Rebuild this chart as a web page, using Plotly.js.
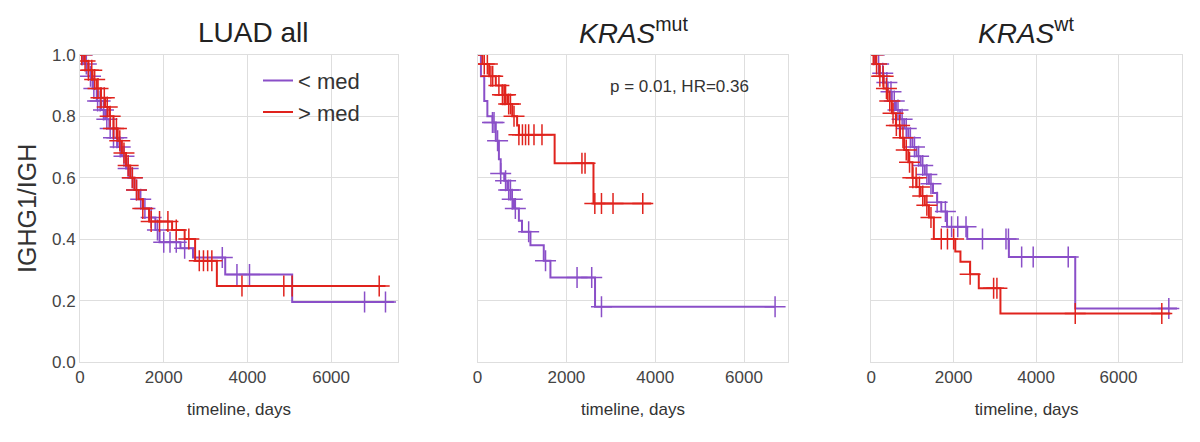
<!DOCTYPE html>
<html><head><script src="https://cdn.plot.ly/plotly-3.0.1.min.js"></script>
<style>body{margin:0}</style></head><body><div id="c" style="width:1200px;height:442px"></div>
<script>
// Panel 1: LUAD all
const p1LowT = [0,100,200,300,400,500,600,700,800,900,1000,1100,1200,1300,1400,1500,1650,1800,1900,2400,2700,3470,5070,7500];
const p1LowS = [1,0.97,0.93,0.89,0.85,0.82,0.79,0.76,0.73,0.70,0.67,0.63,0.60,0.56,0.53,0.50,0.47,0.43,0.39,0.37,0.34,0.285,0.195,0.195];
const p1LowC = [60,150,250,330,420,480,560,640,720,800,880,960,1050,1150,1250,1350,1450,1550,1700,1850,2000,2150,2300,2500,3400,3750,4050,6800,7300];
const p1HighT = [0,100,200,300,400,500,600,700,800,900,1000,1100,1200,1300,1400,1500,1650,2200,2500,2750,3270,7300];
const p1HighS = [1,0.98,0.95,0.92,0.89,0.86,0.83,0.80,0.76,0.72,0.68,0.64,0.60,0.56,0.53,0.50,0.457,0.43,0.40,0.33,0.247,0.247];
const p1HighC = [40,120,200,280,350,430,500,580,650,720,800,870,950,1050,1150,1250,1350,1500,1700,1900,2100,2300,2600,2850,2950,3050,3150,3870,4870,5070,7150];
// Panel 2: KRAS mut
const p2LowT = [0,75,150,220,335,410,480,520,600,670,745,820,930,1000,1190,1490,1640,2645,6700];
const p2LowS = [1,0.93,0.85,0.80,0.78,0.72,0.66,0.614,0.59,0.56,0.53,0.50,0.46,0.424,0.38,0.33,0.275,0.18,0.18];
const p2LowC = [335,370,450,520,630,700,740,780,850,1150,1530,2240,2570,2790,6700];
const p2HighT = [0,110,260,410,560,670,780,890,930,1735,2610,3910];
const p2HighS = [1,0.97,0.93,0.90,0.87,0.84,0.80,0.77,0.74,0.647,0.516,0.516];
const p2HighC = [150,220,300,340,480,560,600,630,700,740,820,930,1010,1080,1150,1270,1450,2350,2420,2640,2790,3050,3720];
// Panel 3: KRAS wt
const p3LowT = [0,100,200,300,400,500,600,700,800,900,1000,1100,1200,1300,1400,1500,1600,1700,1840,2330,3340,4950,7420];
const p3LowS = [1,0.97,0.94,0.91,0.88,0.85,0.82,0.79,0.76,0.73,0.70,0.67,0.64,0.61,0.58,0.55,0.52,0.49,0.44,0.40,0.342,0.174,0.174];
const p3LowC = [80,180,280,380,480,560,650,750,850,950,1050,1150,1250,1350,1450,1600,1800,1950,2100,2300,2700,3270,3330,3650,3930,4780,7220];
const p3HighT = [0,100,200,300,400,500,600,700,800,900,1000,1100,1200,1300,1400,1520,2040,2165,2400,2610,3135,7255];
const p3HighS = [1,0.97,0.93,0.89,0.85,0.81,0.77,0.73,0.69,0.65,0.60,0.57,0.54,0.51,0.47,0.40,0.36,0.326,0.286,0.24,0.158,0.158];
const p3HighC = [50,130,210,290,370,450,530,610,690,770,850,930,1010,1090,1170,1250,1350,1450,1700,1850,2000,2400,2970,3050,4950,7050];

const purple = '#8a4fc8', red = '#e0231d';
function at(T,S,t){let v=S[0];for(let i=0;i<T.length;i++){if(T[i]<=t)v=S[i];}return v;}
const traces=[];
function add(T,S,C,col,name,ax,show){
  traces.push({x:T,y:S,type:'scatter',mode:'lines',line:{shape:'hv',color:col,width:2},name:name,showlegend:show,legendgroup:name,xaxis:'x'+ax,yaxis:'y'+ax,hoverinfo:'skip'});
  traces.push({x:C,y:C.map(t=>at(T,S,t)),type:'scatter',mode:'markers',marker:{symbol:'cross-thin-open',size:15,color:col,line:{color:col,width:1.5}},showlegend:false,xaxis:'x'+ax,yaxis:'y'+ax,hoverinfo:'skip'});
}
add(p1LowT,p1LowS,p1LowC,purple,'< med','',true);
add(p1HighT,p1HighS,p1HighC,red,'> med','',true);
add(p2LowT,p2LowS,p2LowC,purple,'< med','2',false);
add(p2HighT,p2HighS,p2HighC,red,'> med','2',false);
add(p3LowT,p3LowS,p3LowC,purple,'< med','3',false);
add(p3HighT,p3HighS,p3HighC,red,'> med','3',false);

const tf={family:'Liberation Sans, Arial',size:17,color:'#444'};
function xa(dom,max,anchor){return {domain:dom,range:[0,max],tickvals:[0,2000,4000,6000],showgrid:true,gridcolor:'#dedede',gridwidth:1,zeroline:false,showline:true,linecolor:'#dedede',mirror:true,ticks:'',tickfont:tf,anchor:anchor,title:{text:'timeline, days',font:{family:'Liberation Sans, Arial',size:17,color:'#333'},standoff:16}};}
function ya(showlab,anchor){return {domain:[0.181,0.876],range:[0,1],tickvals:[0,0.2,0.4,0.6,0.8,1.0],tickformat:'.1f',showticklabels:showlab,showgrid:true,gridcolor:'#dedede',gridwidth:1,zeroline:false,showline:true,linecolor:'#dedede',mirror:true,ticks:'',tickfont:tf,anchor:anchor};}
const Y1=ya(true,'x'); Y1.title={text:'IGHG1/IGH',font:{family:'Liberation Sans, Arial',size:25,color:'#333'},standoff:8};
const layout={width:1200,height:442,margin:{l:0,r:0,t:0,b:0},paper_bgcolor:'white',plot_bgcolor:'white',
 xaxis:xa([0.0667,0.3317],7600,'y'),yaxis:Y1,
 xaxis2:xa([0.398,0.657],7000,'y2'),yaxis2:ya(false,'x2'),
 xaxis3:xa([0.726,0.985],7540,'y3'),yaxis3:ya(false,'x3'),
 legend:{x:0.215,y:0.865,xanchor:'left',yanchor:'top',font:{family:'Liberation Sans, Arial',size:22,color:'#333'},bgcolor:'rgba(255,255,255,0)',tracegroupgap:0},
 annotations:[
  {text:'LUAD all',x:0.211,y:0.965,xanchor:'center',xref:'paper',yref:'paper',showarrow:false,font:{family:'Liberation Sans, Arial',size:28,color:'#222'}},
  {text:'<i>KRAS</i><sup>mut</sup>',x:0.528,y:0.975,xanchor:'center',xref:'paper',yref:'paper',showarrow:false,font:{family:'Liberation Sans, Arial',size:28,color:'#222'}},
  {text:'<i>KRAS</i><sup>wt</sup>',x:0.855,y:0.975,xanchor:'center',xref:'paper',yref:'paper',showarrow:false,font:{family:'Liberation Sans, Arial',size:28,color:'#222'}},
  {text:'p = 0.01, HR=0.36',x:0.566,y:0.83,xanchor:'center',xref:'paper',yref:'paper',showarrow:false,font:{family:'Liberation Sans, Arial',size:17,color:'#333'}}
 ]};
Plotly.newPlot('c',traces,layout,{staticPlot:true});
</script></body></html>
